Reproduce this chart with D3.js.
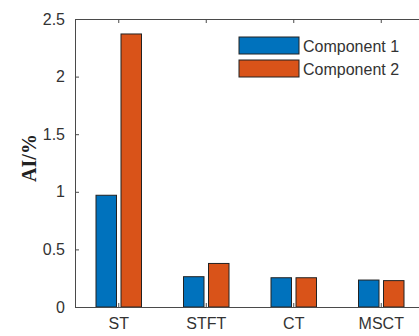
<!DOCTYPE html>
<html>
<head>
<meta charset="utf-8">
<script src="https://cdn.jsdelivr.net/npm/d3@7"></script>
<style>
  body { margin: 0; background: #fff; }
  svg text { font-family: "Liberation Sans", Arial, sans-serif; }
</style>
</head>
<body>
<div id="chart"></div>
<script>
// chart data
const categories = ["ST", "STFT", "CT", "MSCT"];
const seriesNames = ["Component 1", "Component 2"];
const component1 = [0.97, 0.263, 0.254, 0.234];
const component2 = [2.37, 0.378, 0.254, 0.229];
const yTicks = [0, 0.5, 1, 1.5, 2, 2.5];

const COLORS = ["#0072BD", "#D95319"];
const WIDTH = 419, HEIGHT = 336;
const PLOT = { left: 75, top: 19, bottom: 307, right: 425 };

const rows = categories.map((c, i) => ({ cat: c, values: [component1[i], component2[i]] }));

const svg = d3.select("#chart").append("svg")
    .attr("width", WIDTH)
    .attr("height", HEIGHT);

const x = d3.scaleBand().domain(categories).range([PLOT.left, PLOT.right]).padding(0);
const bw = x.bandwidth();
const x1 = d3.scaleBand().domain(seriesNames)
    .range([bw / 2 - 22.75, bw / 2 + 22.75])
    .paddingInner(0.18);

const y = d3.scaleLinear().domain([0, 2.5]).range([PLOT.bottom, PLOT.top]);

// bars
const groups = svg.append("g").selectAll("g")
    .data(rows)
    .join("g")
    .attr("transform", d => `translate(${x(d.cat)},0)`);

groups.selectAll("rect")
    .data(d => d.values.map((v, i) => ({ name: seriesNames[i], v, i })))
    .join("rect")
    .attr("x", d => x1(d.name))
    .attr("y", d => y(d.v))
    .attr("width", x1.bandwidth())
    .attr("height", d => y(0) - y(d.v))
    .attr("fill", d => COLORS[d.i])
    .attr("stroke", "#222")
    .attr("stroke-width", 1);

// axes (ticks point inward like MATLAB)
const axisColor = "#4a4a4a";
const textColor = "#333";

const yAxis = svg.append("g")
    .attr("transform", `translate(${PLOT.left},0)`)
    .call(d3.axisLeft(y).tickValues(yTicks).tickFormat(d3.format("")).tickSizeInner(-4).tickSizeOuter(0).tickPadding(10));

const xAxis = svg.append("g")
    .attr("transform", `translate(0,${PLOT.bottom})`)
    .call(d3.axisBottom(x).tickSizeInner(-4).tickSizeOuter(0).tickPadding(8));

const xTop = svg.append("g")
    .attr("transform", `translate(0,${PLOT.top})`)
    .call(d3.axisTop(x).tickSizeInner(-4).tickSizeOuter(0).tickFormat(""));

[yAxis, xAxis, xTop].forEach(a => {
    a.select(".domain").attr("stroke", axisColor);
    a.selectAll(".tick line").attr("stroke", axisColor);
    a.selectAll(".tick text").attr("fill", textColor).style("font-size", "16px");
});
xAxis.selectAll(".tick text").attr("dy", "0.85em");

// y label
svg.append("text")
    .attr("transform", "translate(36,158) rotate(-90)")
    .attr("text-anchor", "middle")
    .style("font-family", "'Liberation Serif', 'Times New Roman', serif")
    .style("font-weight", "bold")
    .style("font-size", "20px")
    .attr("fill", "#222")
    .text("AI/%");

// legend
const legend = svg.append("g").attr("transform", "translate(239,37)");
seriesNames.forEach((name, i) => {
    const row = legend.append("g").attr("transform", `translate(0,${i * 23})`);
    row.append("rect")
        .attr("width", 60)
        .attr("height", 17)
        .attr("fill", COLORS[i])
        .attr("stroke", "#222");
    row.append("text")
        .attr("x", 64)
        .attr("y", 9)
        .attr("dy", "0.35em")
        .attr("fill", textColor)
        .style("font-size", "16px")
        .text(name);
});
</script>
</body>
</html>
